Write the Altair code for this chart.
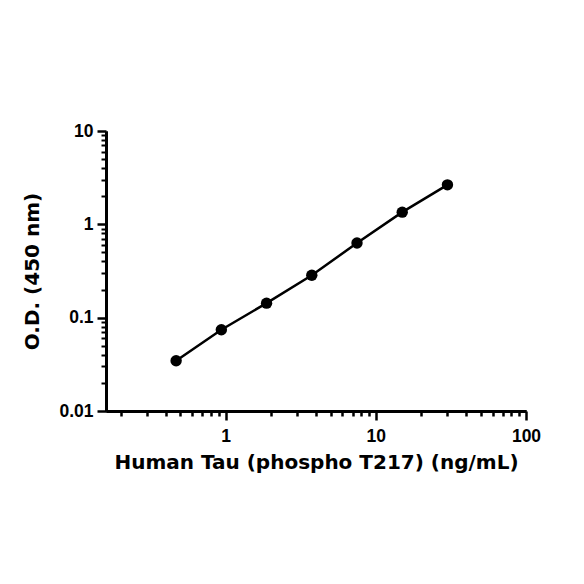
import altair as alt
import pandas as pd

# Data
conc = [0.46875, 0.9375, 1.875, 3.75, 7.5, 15, 30]
od = [0.0346, 0.0743, 0.143, 0.285, 0.63, 1.35, 2.65]

x_major = [1, 10, 100]
x_minor = [0.2, 0.3, 0.4, 0.5, 0.6, 0.7, 0.8, 0.9,
           2, 3, 4, 5, 6, 7, 8, 9,
           20, 30, 40, 50, 60, 70, 80, 90]
y_major = [0.01, 0.1, 1, 10]
y_minor = [0.02, 0.03, 0.04, 0.05, 0.06, 0.07, 0.08, 0.09,
           0.2, 0.3, 0.4, 0.5, 0.6, 0.7, 0.8, 0.9,
           2, 3, 4, 5, 6, 7, 8, 9]

x_title = "Human Tau (phospho T217) (ng/mL)"
y_title = "O.D. (450 nm)"

df = pd.DataFrame({"conc": conc, "od": od})

LFONT = "Liberation Sans"
TFONT = "DejaVu Sans"

xscale = alt.Scale(type="log", domain=[0.16, 100], nice=False)
yscale = alt.Scale(type="log", domain=[0.01, 10], nice=False)

common = dict(grid=False, domainColor="black", domainWidth=3, tickColor="black",
              labelFlush=False, labelOverlap=False,
              labelFont=LFONT, labelFontSize=17.5, labelFontWeight="bold", labelColor="black",
              titleFont=TFONT, titleFontSize=20, titleFontWeight="bold", titleColor="black")

x_major_axis = alt.Axis(values=x_major, format="~g", title=x_title, orient="bottom",
                        tickSize=9, tickWidth=2.5, labelPadding=7, titlePadding=8, **common)
x_minor_axis = alt.Axis(values=x_minor, labels=False, title=None, orient="bottom",
                        tickSize=5, tickWidth=2.5, grid=False, domainColor="black",
                        domainWidth=3, tickColor="black")
y_major_axis = alt.Axis(values=y_major, format="~g", title=y_title, orient="left",
                        tickSize=9, tickWidth=2.5, labelPadding=4, titlePadding=16, **common)
y_minor_axis = alt.Axis(values=y_minor, labels=False, title=None, orient="left",
                        tickSize=5, tickWidth=2, grid=False, domainColor="black",
                        domainWidth=3, tickColor="black")

line = alt.Chart(df).mark_line(color="black", strokeWidth=2.5).encode(
    x=alt.X("conc:Q", scale=xscale, axis=x_major_axis),
    y=alt.Y("od:Q", scale=yscale, axis=y_major_axis),
)

points = alt.Chart(df).mark_circle(color="black", size=130, opacity=1).encode(
    x=alt.X("conc:Q", scale=xscale, axis=x_minor_axis),
    y=alt.Y("od:Q", scale=yscale, axis=y_minor_axis),
)

chart = alt.layer(line, points).resolve_axis(x="independent", y="independent").properties(
    width=420, height=280,
    autosize=alt.AutoSizeParams(type="none"),
    padding={"left": 98, "top": 123, "right": 50, "bottom": 165},
    background="white",
).configure_view(stroke=None)

chart.save("out.html", embed_options={"renderer": "svg", "actions": False})
